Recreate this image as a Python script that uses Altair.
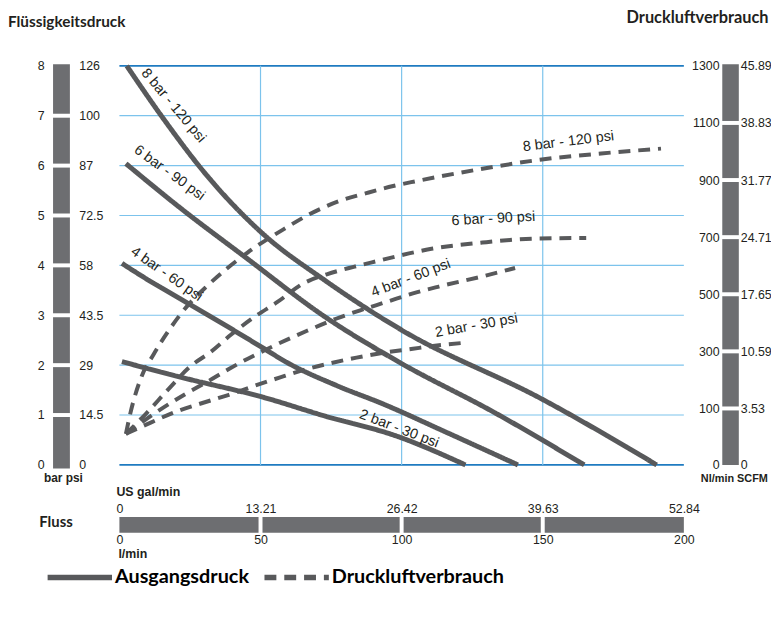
import altair as alt
import pandas as pd

W, H = 570, 403

# ---------------- data ----------------
# Ausgangsdruck (bar) vs Fluss (l/min)
p8_flow = [2.6, 15.6, 29.7, 50.7, 72.8, 99.8, 149.7, 190.4]
p8_bar = [8.0, 6.94, 5.89, 4.64, 3.70, 2.71, 1.32, 0.0]
p6_flow = [2.3, 21.6, 44.7, 72.8, 98.8, 133.2, 164.7]
p6_bar = [6.04, 5.15, 4.16, 2.97, 2.07, 1.04, 0.0]
p4_flow = [0.9, 10.4, 21.6, 38.4, 50.7, 59.5, 77.0, 93.5, 115.6, 141.2]
p4_bar = [4.04, 3.70, 3.33, 2.77, 2.35, 2.05, 1.59, 1.22, 0.66, 0.0]
p2_flow = [0.9, 21.6, 50.7, 72.8, 98.1, 122.6]
p2_bar = [2.07, 1.76, 1.36, 0.98, 0.58, 0.0]

# Druckluftverbrauch (Nl/min) vs Fluss (l/min)
a8_flow = [2.3, 4.0, 7.9, 12.1, 18.4, 23.7, 31.4, 45.4, 58.4, 67.5, 78.1, 87.5, 97.0, 105.1, 127.2, 149.7, 170.7, 191.9]
a8_nl = [55, 94, 213, 289, 386, 455, 532, 646, 729, 781, 827, 854, 879, 896, 937, 972, 993, 1010]
a6_flow = [2.3, 9.3, 17.4, 25.1, 32.5, 39.5, 47.9, 56.0, 65.4, 73.5, 83.0, 92.1, 102.6, 111.1, 128.6, 147.2, 165.4]
a6_nl = [55, 90, 168, 247, 299, 358, 421, 473, 539, 570, 596, 618, 643, 660, 681, 695, 697]
a4_flow = [2.3, 12.1, 23.3, 31.4, 39.1, 49.0, 57.0, 66.5, 77.0, 85.1, 94.6, 104.0, 113.2, 129.7, 140.2]
a4_nl = [55, 90, 150, 195, 240, 292, 330, 372, 415, 443, 473, 503, 527, 565, 592]
a2_flow = [2.3, 11.1, 20.9, 29.7, 38.8, 47.5, 56.7, 65.4, 74.6, 84.0, 93.5, 104.0, 109.7, 123.3]
a2_nl = [55, 75, 96, 120, 148, 178, 208, 235, 258, 278, 295, 309, 317, 331]

series_names = ["8 bar - 120 psi", "6 bar - 90 psi", "4 bar - 60 psi", "2 bar - 30 psi"]
legend_names = ["Ausgangsdruck", "Druckluftverbrauch"]

# tick labels
bar_ticks = [0, 1, 2, 3, 4, 5, 6, 7, 8]
psi_ticks = [0, 14.5, 29, 43.5, 58, 72.5, 87, 100, 126]
nl_ticks = [0, 100, 300, 500, 700, 900, 1100, 1300]
scfm_ticks = [0, 3.53, 10.59, 17.65, 24.71, 31.77, 38.83, 45.89]
lmin_ticks = [0, 50, 100, 150, 200]
gal_ticks = [0, 13.21, 26.42, 39.63, 52.84]

# curve labels (text, flow, bar-position, angle)
lab_text = series_names + series_names
lab_flow = [19.1, 17.7, 16.7, 99.1, 159.1, 132.5, 103.3, 126.5]
lab_bar = [7.20, 5.85, 3.82, 0.72, 6.48, 4.93, 3.74, 2.79]
lab_angle = [50, 36, 35, 21, 353, 357, 339, 350]

# ---------------- styles ----------------
FONT = "'Liberation Sans', Arial, sans-serif"
TFONT = "Lato, 'Open Sans', sans-serif"
TXT = "#231f20"
LINE = "#58595b"
BARGRAY = "#6d6e71"
GRID = "#7cc3ec"
EDGE = "#1f7bc1"

x_l = alt.Scale(domain=[0, 200], nice=False)
x_gal = alt.Scale(domain=[0, 52.84], nice=False)
y_bar = alt.Scale(domain=[0, 8], nice=False)
y_psi = alt.Scale(domain=psi_ticks, range=[H * (1 - i / 8) for i in range(9)])
y_nl = alt.Scale(domain=[0, 100, 1300], range=[H, H - 57, 0])
y_scfm = alt.Scale(domain=[0, 3.53, 45.89], range=[H, H - 57, 0])
dash_scale = alt.Scale(domain=legend_names, range=[[1, 0], [12, 8]])


def ax(**kw):
    base = dict(domain=False, ticks=False, tickSize=0, grid=False, labelPadding=0,
                title=None, labelFont=FONT, labelFontSize=12.5, labelColor=TXT,
                labelOverlap=False, labelFlush=False, labelExpr="'' + datum.value")
    base.update(kw)
    return alt.Axis(**base)


def frame(flows, vals, name, typ):
    return pd.DataFrame({"flow": flows, "v": vals, "series": name, "typ": typ})


solid = pd.concat([
    frame(p8_flow, p8_bar, series_names[0], legend_names[0]),
    frame(p6_flow, p6_bar, series_names[1], legend_names[0]),
    frame(p4_flow, p4_bar, series_names[2], legend_names[0]),
    frame(p2_flow, p2_bar, series_names[3], legend_names[0]),
])
dashed = pd.concat([
    frame(a8_flow, a8_nl, series_names[0], legend_names[1]),
    frame(a6_flow, a6_nl, series_names[1], legend_names[1]),
    frame(a4_flow, a4_nl, series_names[2], legend_names[1]),
    frame(a2_flow, a2_nl, series_names[3], legend_names[1]),
])

# grid (horizontal inner lines carry the bar axis)
hgrid = alt.Chart(pd.DataFrame({"bar": bar_ticks[1:-1]})).mark_rule(color=GRID, strokeWidth=1.2).encode(
    y=alt.Y("bar:Q", scale=y_bar,
            axis=ax(values=bar_ticks, orient="left", offset=76, labelAlign="right", labelBaseline="middle"))
)
hedge = alt.Chart(pd.DataFrame({"bar": [bar_ticks[0], bar_ticks[-1]]})).mark_rule(color=EDGE, strokeWidth=1.6).encode(
    y=alt.Y("bar:Q", scale=y_bar, axis=None)
)
vgrid = alt.Chart(pd.DataFrame({"flow": lmin_ticks[1:-1]})).mark_rule(color=GRID, strokeWidth=1.2).encode(
    x=alt.X("flow:Q", scale=x_l, axis=None)
)

# left gray bar + gaps (psi axis)
left_bar = alt.Chart(pd.DataFrame({"lo": [bar_ticks[0]], "hi": [bar_ticks[-1]]})).mark_rect(
    color=BARGRAY, yOffset=-1.5, y2Offset=3.5).encode(
    x=alt.value(-67), x2=alt.value(-50),
    y=alt.Y("hi:Q", scale=y_bar, axis=None), y2="lo:Q"
)
left_gaps = alt.Chart(pd.DataFrame({"psi": psi_ticks[1:-1]})).mark_rule(color="white", strokeWidth=4).encode(
    x=alt.value(-69), x2=alt.value(-48),
    y=alt.Y("psi:Q", scale=y_psi,
            axis=ax(values=psi_ticks, orient="left", offset=41, labelAlign="left", labelBaseline="middle"))
)

# right gray bar (Nl/min axis) + gaps (SCFM axis)
right_bar = alt.Chart(pd.DataFrame({"lo": [nl_ticks[0]], "hi": [nl_ticks[-1]]})).mark_rect(
    color=BARGRAY, yOffset=-1.5).encode(
    x=alt.value(608.8), x2=alt.value(625.5),
    y=alt.Y("hi:Q", scale=y_nl,
            axis=ax(values=nl_ticks, orient="right", offset=35.5, labelAlign="right", labelBaseline="middle")),
    y2="lo:Q"
)
right_gaps = alt.Chart(pd.DataFrame({"scfm": scfm_ticks[1:-1]})).mark_rule(color="white", strokeWidth=4).encode(
    x=alt.value(607), x2=alt.value(627),
    y=alt.Y("scfm:Q", scale=y_scfm,
            axis=ax(values=scfm_ticks, orient="right", offset=57, labelAlign="left", labelBaseline="middle"))
)

# bottom gray bar (US gal/min axis) + gaps (l/min axis)
bottom_bar = alt.Chart(pd.DataFrame({"g0": [gal_ticks[0]], "g1": [gal_ticks[-1]]})).mark_rect(color=BARGRAY).encode(
    x=alt.X("g0:Q", scale=x_gal,
            axis=ax(values=gal_ticks, orient="bottom", offset=44, labelAlign="center", labelBaseline="middle")),
    x2="g1:Q",
    y=alt.value(455.5), y2=alt.value(471.5)
)
bottom_gaps = alt.Chart(pd.DataFrame({"flow": lmin_ticks[1:-1]})).mark_rule(color="white", strokeWidth=4).encode(
    x=alt.X("flow:Q", scale=x_l,
            axis=ax(values=lmin_ticks, orient="bottom", offset=75, labelAlign="center", labelBaseline="middle")),
    y=alt.value(454), y2=alt.value(473)
)

legend = alt.Legend(orient="none", legendX=-75.5, legendY=481, direction="horizontal", title=None,
                    symbolType="stroke", symbolSize=4225, symbolStrokeWidth=5.5, symbolStrokeColor=LINE,
                    labelFont=TFONT, labelFontWeight="bold", labelFontSize=20, labelColor="black",
                    labelOffset=0, columnPadding=4, labelLimit=300)

solid_lines = alt.Chart(solid).mark_line(color=LINE, strokeWidth=5, interpolate="monotone").encode(
    x=alt.X("flow:Q", scale=x_l, axis=None),
    y=alt.Y("v:Q", scale=y_bar, axis=None),
    detail="series:N",
    strokeDash=alt.StrokeDash("typ:N", scale=dash_scale, legend=legend),
)
dashed_lines = alt.Chart(dashed).mark_line(color=LINE, strokeWidth=4, interpolate="monotone").encode(
    x=alt.X("flow:Q", scale=x_l, axis=None),
    y=alt.Y("v:Q", scale=y_nl, axis=None),
    detail="series:N",
    strokeDash=alt.StrokeDash("typ:N", scale=dash_scale, legend=legend),
)

curve_labels = alt.Chart(pd.DataFrame({"t": lab_text, "flow": lab_flow, "bar": lab_bar, "ang": lab_angle})).mark_text(
    font=FONT, fontSize=14.5, color=TXT, baseline="middle", align="center").encode(
    x=alt.X("flow:Q", scale=x_l, axis=None),
    y=alt.Y("bar:Q", scale=y_bar, axis=None),
    text="t:N",
    angle=alt.Angle("ang:Q", scale=None),
)


def label(text, x, y, size, align="center", font=FONT):
    return alt.Chart(pd.DataFrame({"t": [text]})).mark_text(
        font=font, fontSize=size, fontWeight="bold", align=align, baseline="middle", color=TXT
    ).encode(text="t:N", x=alt.value(x), y=alt.value(y))


texts = [
    label("Flüssigkeitsdruck", -112.5, -44.5, 15.5, "left", TFONT),
    label("Druckluftverbrauch", 655.5, -48.5, 16.5, "right", TFONT),
    label("bar psi", -56.5, 416, 12),
    label("Nl/min SCFM", 621, 417.5, 11),
    label("US gal/min", -3, 430.5, 12.5, "left"),
    label("l/min", -1, 493.5, 12.5, "left"),
    label("Fluss", -64, 460.8, 15, "center", TFONT),
]

chart = alt.layer(
    hgrid, hedge, vgrid, left_bar, left_gaps, right_bar, right_gaps, bottom_bar, bottom_gaps,
    solid_lines, dashed_lines, curve_labels, *texts
).resolve_scale(
    x="independent", y="independent", strokeDash="shared"
).properties(
    width=W, height=H,
    autosize=alt.AutoSizeParams(type="none"),
    padding={"left": 112.5, "top": 55.5, "right": 88, "bottom": 132},
).configure_view(stroke=None)

chart.save("out.html", embed_options={"renderer": "svg", "actions": False})
